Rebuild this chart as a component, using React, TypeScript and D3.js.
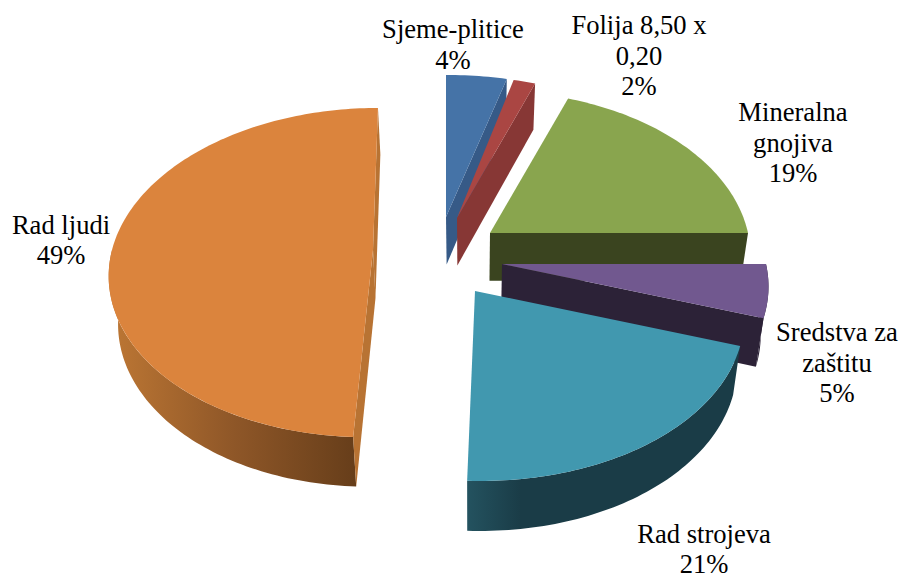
import React from "react";
import * as d3 from "d3";

// Data
const names = ["Sjeme-plitice", "Folija 8,50 x 0,20", "Mineralna gnojiva", "Sredstva za zaštitu", "Rad strojeva", "Rad ljudi"];
const values = [4, 1.55, 19.45, 5.2, 20.5, 49.3];
const labelLines = [
  ["Sjeme-plitice", "4%"],
  ["Folija 8,50 x", "0,20", "2%"],
  ["Mineralna", "gnojiva", "19%"],
  ["Sredstva za", "zaštitu", "5%"],
  ["Rad strojeva", "21%"],
  ["Rad ljudi", "49%"],
];

// Styles
const topColors = ["#4573a7", "#aa4643", "#89a54e", "#71588f", "#4198af", "#db843d"];
const wallColors = ["#365a87", "#873735", "#3a441f", "#2c2237", "#1a3c47", "#b87333"];

// Exploded 3D layout of each slice
const apexX = [446, 457, 490, 502, 475, 373];
const apexY = [217, 218, 233, 264, 291, 250];
const radiusX = [277, 258, 258, 264, 266, 261];
const radiusY = [1, 1, 1, 1, 1.015, 1];
const lean = [0, 0, 0, 0, 0.03, -0.035];
const labelX = [453, 639, 793, 837, 704, 61];
const labelY = [30, 26, 113, 333, 534.5, 225.5];

const RY = 161.5;
const PERSP = 0.137;
const VANISH_X = 470;
const VANISH_K = 0.026;

type P = [number, number];

const project = (i: number, a: number): P => {
  const n = -Math.cos(a);
  const w = 1 - PERSP * n;
  const Y = (RY * radiusY[i] * n) / w;
  const X = (radiusX[i] * Math.sin(a)) / w + lean[i] * Y;
  return [apexX[i] + X, apexY[i] + Y];
};
const drop = ([x, y]: P): P => [x + (VANISH_X - x) * VANISH_K, y + 47.5 + 0.0095 * (y - 217)];

const sample = (a0: number, a1: number) => {
  const steps = Math.max(2, Math.ceil(Math.abs(a1 - a0) / 0.02));
  return d3.range(steps + 1).map((k) => a0 + ((a1 - a0) * k) / steps);
};

const line = d3.line<P>().x((d) => d[0]).y((d) => d[1]);
const closed = (pts: P[]) => (line(pts) as string) + "Z";

export default function App() {
  const arcs = d3.pie<number>().sort(null).startAngle(0).endAngle(2 * Math.PI)(values);

  const slices = arcs.map((arc, i) => {
    const a0 = arc.startAngle;
    const a1 = arc.endAngle;
    const apex: P = [apexX[i], apexY[i]];
    const top = closed([apex, ...sample(a0, a1).map((a) => project(i, a))]);

    const rimA0 = Math.max(a0, Math.PI / 2);
    const rimA1 = Math.min(a1, (3 * Math.PI) / 2);
    let rim: string | null = null;
    if (rimA1 > rimA0) {
      const upper = sample(rimA0, rimA1).map((a) => project(i, a));
      rim = closed([...upper, ...upper.slice().reverse().map(drop)]);
    }

    const startP = project(i, a0);
    const endP = project(i, a1);
    const wallQuad = (p: P) => closed([apex, p, drop(p), drop(apex)]);
    // cut faces seen by the viewer
    const walls: string[] = [];
    if (i === 5) {
      walls.push(wallQuad(startP));
      walls.push(wallQuad(endP));
    } else if (i < 4) {
      walls.push(wallQuad(endP));
    }
    return { i, top, rim, walls };
  });

  return (
    <svg
      width={900}
      height={579}
      viewBox="0 0 900 579"
      style={{ position: "absolute", left: 0, top: 0, background: "#fff" }}
    >
      <defs>
        <linearGradient id="rim5" gradientUnits="userSpaceOnUse" x1={110} x2={355} y1={0} y2={0}>
          <stop offset="0" stopColor="#bd7734" />
          <stop offset="0.5" stopColor="#8f5728" />
          <stop offset="1" stopColor="#673e1a" />
        </linearGradient>
        <linearGradient id="rim4" gradientUnits="userSpaceOnUse" x1={466} x2={740} y1={0} y2={0}>
          <stop offset="0" stopColor="#245360" />
          <stop offset="0.2" stopColor="#1a3c47" />
          <stop offset="1" stopColor="#1a3c47" />
        </linearGradient>
      </defs>
      {slices.map((s) => (
        <g key={names[s.i]}>
          {s.rim && <path d={s.rim} fill={s.i >= 4 ? `url(#rim${s.i})` : wallColors[s.i]} />}
          {s.walls.map((d, k) => (
            <path key={k} d={d} fill={wallColors[s.i]} />
          ))}
          <path d={s.top} fill={topColors[s.i]} />
        </g>
      ))}
      {labelLines.map((lines, i) => (
        <text
          key={names[i]}
          textAnchor="middle"
          fontFamily="'Liberation Serif', serif"
          fontSize={26.6}
          fill="#000"
        >
          {lines.map((t, k) => (
            <tspan key={k} x={labelX[i]} y={labelY[i] + 8 + k * 30.7}>
              {t}
            </tspan>
          ))}
        </text>
      ))}
    </svg>
  );
}
